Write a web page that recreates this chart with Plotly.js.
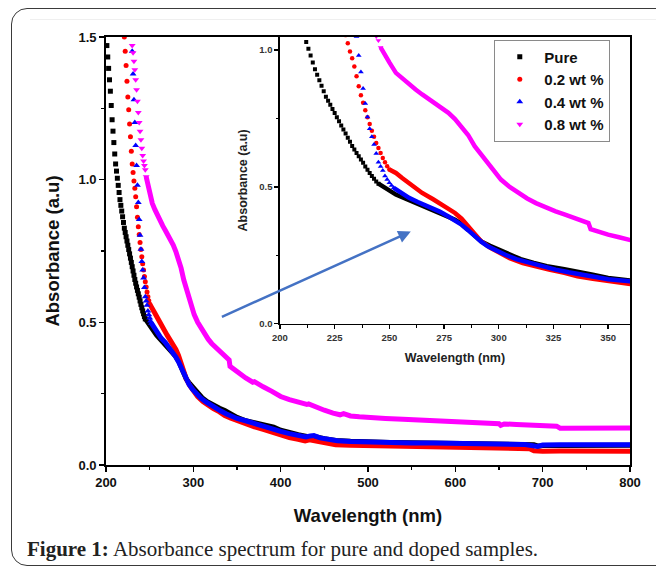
<!DOCTYPE html>
<html><head><meta charset="utf-8">
<script src="https://cdn.plot.ly/plotly-3.0.1.min.js"></script>
<style>
html,body{margin:0;padding:0;background:#fff;width:656px;height:568px;overflow:hidden;position:relative;}
#frame{position:absolute;left:11px;top:8px;width:690px;height:558px;border:1.5px solid #3a3a3a;border-radius:16px;box-sizing:border-box;}
#rule{position:absolute;left:30px;top:19px;width:626px;height:1px;background:#efefef;}
#chart{position:absolute;left:0;top:0;width:656px;height:568px;}
</style></head>
<body>
<div id="frame"></div>
<div id="rule"></div>
<div id="chart"></div>
<script>
// ---- data ----
const seriesNames = ['Pure', '0.2 wt %', '0.4 wt %', '0.8 wt %'];
const xTicks = [200, 300, 400, 500, 600, 700, 800];
const yTicks = [0.0, 0.5, 1.0, 1.5];
const insetXTicks = [200, 225, 250, 275, 300, 325, 350];
const insetYTicks = [0.0, 0.5, 1.0];

// Pure: resolved markers on the absorption edge, then the dense band
const pureEdgeWl = [201,202,203,204,205,206,207,208,209,210,211,212,213,214,215,216,217,218,219,220,221,222,223,224,225,226,227,228,229,230,231,232,233,234,235,236,237,238,239,240,241,242,243,244,245];
const pureEdgeAbs = [1.47,1.43,1.39,1.35,1.31,1.26,1.21,1.17,1.13,1.09,1.055,1.03,1.005,0.98,0.955,0.93,0.91,0.89,0.87,0.85,0.83,0.815,0.80,0.785,0.77,0.755,0.74,0.725,0.71,0.695,0.68,0.665,0.65,0.637,0.624,0.612,0.60,0.588,0.575,0.563,0.551,0.54,0.53,0.52,0.512];
const pureTailWl = [245,247,250,253,258,262,267,271,276,280,283,286,289,292,296,300,305,310,316,322,330,336,343,350,360,370,380,392,400,410,420,430,440,450,463,480,500,525,550,575,600,625,650,670,690,695,700,720,750,775,800];
const pureTailAbs = [0.512,0.502,0.487,0.472,0.455,0.441,0.425,0.411,0.395,0.380,0.365,0.344,0.322,0.301,0.285,0.271,0.252,0.236,0.222,0.210,0.199,0.191,0.179,0.167,0.155,0.148,0.140,0.133,0.122,0.113,0.106,0.100,0.099,0.092,0.086,0.083,0.080,0.079,0.078,0.077,0.075,0.074,0.073,0.072,0.071,0.066,0.068,0.068,0.069,0.068,0.069];

// 0.2 wt %
const redEdgeWl = [221,222,223,224,225,226,227,228,229,230,231,232,233,234,235,236,237,238,239,240,241,242,243,244,245,246,247,248,249,250];
const redEdgeAbs = [1.50,1.45,1.40,1.345,1.29,1.245,1.195,1.15,1.10,1.055,1.025,0.995,0.97,0.94,0.905,0.868,0.835,0.808,0.78,0.755,0.73,0.705,0.683,0.661,0.642,0.624,0.606,0.59,0.576,0.564];
const redTailWl = [250,253,256,259,262,265,270,274,277,280,283,286,289,292,296,300,305,311,317,323,330,336,343,350,360,370,380,390,400,410,420,428,433,440,450,463,480,500,525,550,575,600,625,650,670,685,690,700,720,750,775,800];
const redTailAbs = [0.564,0.551,0.532,0.515,0.496,0.478,0.455,0.435,0.422,0.405,0.384,0.356,0.328,0.301,0.278,0.259,0.240,0.222,0.208,0.198,0.186,0.173,0.164,0.155,0.143,0.134,0.125,0.115,0.103,0.096,0.090,0.084,0.088,0.083,0.078,0.071,0.069,0.068,0.066,0.065,0.064,0.063,0.062,0.060,0.058,0.057,0.050,0.048,0.049,0.050,0.049,0.048];

// 0.4 wt %
const blueEdgeWl = [230,231,232,233,234,235,236,237,238,239,240,241,242,243,244,245,246,247,248,249,250,251,252];
const blueEdgeAbs = [1.45,1.37,1.28,1.20,1.12,1.05,0.98,0.92,0.86,0.805,0.756,0.713,0.683,0.655,0.622,0.590,0.575,0.560,0.540,0.527,0.515,0.505,0.497];
const blueTailWl = [252,256,259,263,268,273,277,280,283,286,289,292,295,299,303,308,314,320,326,332,338,344,350,360,370,380,390,400,410,420,429,434,438,445,455,465,480,500,525,550,575,600,625,650,655,660,680,694,700,720,750,775,800];
const blueTailAbs = [0.497,0.475,0.460,0.445,0.429,0.410,0.392,0.378,0.362,0.342,0.319,0.300,0.283,0.266,0.252,0.236,0.222,0.209,0.198,0.188,0.179,0.170,0.163,0.155,0.145,0.135,0.126,0.118,0.110,0.104,0.098,0.102,0.103,0.095,0.088,0.085,0.082,0.080,0.079,0.077,0.077,0.076,0.075,0.074,0.070,0.073,0.072,0.065,0.070,0.071,0.070,0.071,0.071];

// 0.8 wt %
const magEdgeWl = [230,231,232,233,234,235,236,237,238,239,240,241,242,243,244,245,246];
const magEdgeAbs = [1.47,1.445,1.415,1.385,1.35,1.315,1.275,1.235,1.20,1.17,1.14,1.11,1.085,1.065,1.05,1.035,1.01];
const magTailWl = [246,248,250,253,256,259,262,265,268,271,274,277,280,283,286,289,292,295,298,301,305,309,313,317,321,326,330,335,340,341,342,346,350,355,360,365,368,370,375,380,390,400,410,420,430,432,434,440,450,460,468,472,476,480,490,500,520,540,560,580,600,620,640,650,652,656,670,690,710,716,720,740,760,780,800];
const magTailAbs = [1.01,0.98,0.955,0.917,0.895,0.874,0.856,0.838,0.822,0.807,0.790,0.771,0.748,0.722,0.690,0.649,0.618,0.588,0.557,0.527,0.500,0.478,0.458,0.441,0.426,0.411,0.400,0.387,0.374,0.368,0.346,0.335,0.326,0.316,0.305,0.296,0.290,0.292,0.282,0.274,0.258,0.240,0.229,0.220,0.212,0.214,0.211,0.202,0.192,0.182,0.176,0.180,0.177,0.172,0.169,0.166,0.163,0.160,0.157,0.153,0.151,0.149,0.146,0.145,0.139,0.144,0.142,0.139,0.137,0.136,0.129,0.129,0.128,0.129,0.130];

// ---- styling ----
const sty = [
  {color:'#000000', symbol:'square', sMain:5, sIn:4},
  {color:'#ff0000', symbol:'circle', sMain:5, sIn:4.5},
  {color:'#0000ff', symbol:'triangle-up', sMain:6, sIn:5},
  {color:'#ff00ff', symbol:'triangle-down', sMain:6, sIn:5}
];
const edges = [[pureEdgeWl,pureEdgeAbs],[redEdgeWl,redEdgeAbs],[blueEdgeWl,blueEdgeAbs],[magEdgeWl,magEdgeAbs]];
const tails = [[pureTailWl,pureTailAbs],[redTailWl,redTailAbs],[blueTailWl,blueTailAbs],[magTailWl,magTailAbs]];

const traces = [];
for (let i = 0; i < 4; i++) {
  const s = sty[i];
  traces.push({x:edges[i][0], y:edges[i][1], type:'scatter', mode:'markers', name:seriesNames[i],
    legendgroup:'g'+i, marker:{color:s.color, symbol:s.symbol, size:s.sMain, line:{width:0}}, xaxis:'x', yaxis:'y'});
  traces.push({x:tails[i][0], y:tails[i][1], type:'scatter', mode:'lines', name:seriesNames[i], showlegend:false,
    legendgroup:'g'+i, line:{color:s.color, width:5}, xaxis:'x', yaxis:'y'});
}
for (let i = 0; i < 4; i++) {
  const s = sty[i];
  traces.push({x:edges[i][0], y:edges[i][1], type:'scatter', mode:'markers', name:seriesNames[i], showlegend:false,
    legendgroup:'g'+i, marker:{color:s.color, symbol:s.symbol, size:s.sIn, line:{width:0}}, xaxis:'x2', yaxis:'y2'});
  traces.push({x:tails[i][0], y:tails[i][1], type:'scatter', mode:'lines', name:seriesNames[i], showlegend:false,
    legendgroup:'g'+i, line:{color:s.color, width:4.5}, xaxis:'x2', yaxis:'y2'});
}

const bold = (sz, col) => ({family:'Liberation Sans, Arial, sans-serif', size:sz, weight:'bold', color:col || '#111'});

const layout = {
  width:656, height:568,
  margin:{l:106, r:26, t:37, b:103},
  paper_bgcolor:'rgba(0,0,0,0)', plot_bgcolor:'#ffffff',
  showlegend:true,
  legend:{x:0.741, y:0.994, xanchor:'left', yanchor:'top', bordercolor:'#8a8a8a', borderwidth:1,
    bgcolor:'#ffffff', font:bold(15,'#111'), itemwidth:39, tracegroupgap:0},
  xaxis:{domain:[0,1], range:[200,800], tickvals:xTicks, ticktext:xTicks.map(String), ticks:'outside', ticklen:5, tickwidth:1.5,
    tickcolor:'#000', showline:true, linewidth:1.8, linecolor:'#000', mirror:true, showgrid:false, zeroline:false,
    minor:{ticks:'outside', tickvals:[250,350,450,550,650,750], ticklen:3, tickwidth:1.3, tickcolor:'#000'},
    tickfont:bold(13,'#111'), title:{text:'Wavelength (nm)', font:bold(18.5,'#111'), standoff:20}},
  yaxis:{domain:[0,1], range:[0,1.5], tickvals:yTicks, ticktext:yTicks.map(v=>v.toFixed(1)), ticks:'outside', ticklen:5, tickwidth:1.5,
    tickcolor:'#000', showline:true, linewidth:1.8, linecolor:'#000', mirror:true, showgrid:false, zeroline:false,
    minor:{ticks:'outside', tickvals:[0.25,0.75,1.25], ticklen:3, tickwidth:1.3, tickcolor:'#000'},
    tickfont:bold(13,'#111'), title:{text:'Absorbance (a.u)', font:bold(18.5,'#111'), standoff:14}},
  xaxis2:{domain:[0.332,1], anchor:'y2', range:[200,360], tickvals:insetXTicks, ticktext:insetXTicks.map(String), ticks:'outside', ticklen:4, tickwidth:1.3,
    tickcolor:'#000', showline:true, linewidth:1.6, linecolor:'#000', mirror:true, showgrid:false, zeroline:false,
    minor:{ticks:'outside', tickvals:[212.5,237.5,262.5,287.5,312.5,337.5], ticklen:2.5, tickwidth:1, tickcolor:'#000'},
    tickfont:bold(9.5,'#333'), title:{text:'Wavelength (nm)', font:bold(12.5,'#222'), standoff:11}},
  yaxis2:{domain:[0.330,1], anchor:'x2', range:[0,1.048], tickvals:insetYTicks, ticktext:insetYTicks.map(v=>v.toFixed(1)), ticks:'outside', ticklen:4, tickwidth:1.3,
    tickcolor:'#000', showline:true, linewidth:1.6, linecolor:'#000', mirror:true, showgrid:false, zeroline:false,
    minor:{ticks:'outside', tickvals:[0.25,0.75], ticklen:2.5, tickwidth:1, tickcolor:'#000'},
    tickfont:bold(9.5,'#333'), title:{text:'Absorbance (a.u)', font:bold(12.5,'#222'), standoff:9}},
  annotations:[
    {xref:'x', yref:'y', axref:'x', ayref:'y', x:549, y:0.818, ax:331, ay:0.517, text:'', showarrow:true,
      arrowhead:2, arrowsize:1, arrowwidth:2.5, arrowcolor:'#4472c4', standoff:0},
    {xref:'paper', yref:'paper', x:-0.1545, y:-0.196, xanchor:'left', yanchor:'middle', showarrow:false, align:'left',
      text:'<b>Figure 1:</b> Absorbance spectrum for pure and doped samples.',
      font:{family:'Liberation Serif, serif', size:21, color:'#222'}}
  ]
};

Plotly.newPlot('chart', traces, layout, {displayModeBar:false, staticPlot:true});
</script>
</body></html>
